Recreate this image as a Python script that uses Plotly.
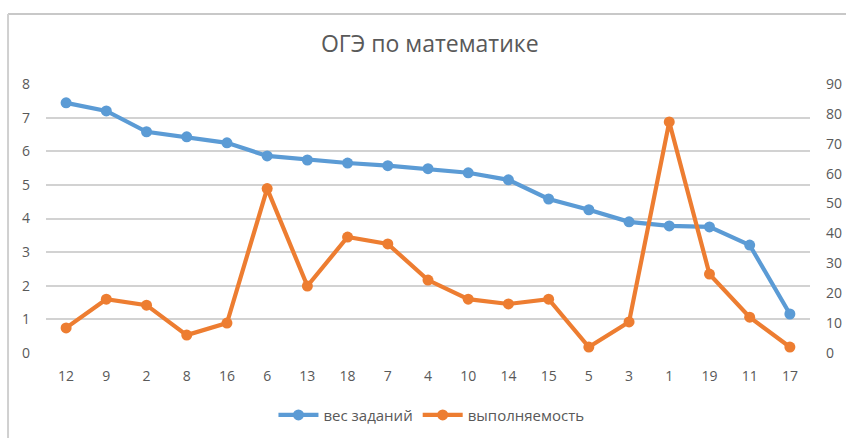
import plotly.graph_objects as go

categories = ["12", "9", "2", "8", "16", "6", "13", "18", "7", "4", "10", "14", "15", "5", "3", "1", "19", "11", "17"]
ves_zadaniy = [7.44, 7.2, 6.58, 6.43, 6.25, 5.86, 5.74, 5.65, 5.57, 5.48, 5.36, 5.15, 4.58, 4.26, 3.9, 3.78, 3.75, 3.21, 1.16]
vypolnyaemost = [8.4, 18, 16, 6, 10, 55, 22.4, 38.8, 36.5, 24.4, 18, 16.4, 18, 2, 10.4, 77.3, 26.4, 12, 2]
left_ticks = [0, 1, 2, 3, 4, 5, 6, 7, 8]
right_ticks = [0, 10, 20, 30, 40, 50, 60, 70, 80, 90]

BLUE = "#5B9BD5"
ORANGE = "#ED7D31"
TXT = "#595959"
GRID = "#D2D2D2"
FONT = "Open Sans"

fig = go.Figure()
fig.add_trace(go.Scatter(
    x=categories, y=ves_zadaniy, name="вес заданий", mode="lines+markers",
    line=dict(color=BLUE, width=4.2), marker=dict(color=BLUE, size=11),
    yaxis="y"))
fig.add_trace(go.Scatter(
    x=categories, y=vypolnyaemost, name="выполняемость", mode="lines+markers",
    line=dict(color=ORANGE, width=4.2), marker=dict(color=ORANGE, size=11),
    yaxis="y2"))

fig.update_layout(
    width=846, height=438,
    margin=dict(l=46, r=36, t=84, b=85, autoexpand=False),
    paper_bgcolor="white", plot_bgcolor="white",
    font=dict(family=FONT, color=TXT, size=14),
    title=dict(text="ОГЭ по математике", x=0.508, xanchor="center", xref="container",
               y=0.9, yanchor="middle", yref="container",
               font=dict(family=FONT, size=23, color=TXT)),
    xaxis=dict(type="category", range=[-0.5, len(categories) - 0.5], showgrid=False,
               showline=False, zeroline=False, ticks="",
               tickfont=dict(size=14, color=TXT), ticklabelstandoff=13, automargin=False),
    yaxis=dict(range=[0, 8], tickvals=left_ticks, showgrid=True, gridcolor=GRID, gridwidth=1.5,
               zeroline=False, showline=False, ticks="", tickfont=dict(size=14, color=TXT),
               ticklabelstandoff=15, automargin=False),
    yaxis2=dict(range=[0, 90], tickvals=right_ticks, overlaying="y", side="right",
                showgrid=False, zeroline=False, showline=False, ticks="",
                tickfont=dict(size=14, color=TXT), ticklabelstandoff=15, automargin=False),
    legend=dict(orientation="h", x=0.51, xanchor="center", xref="container",
                y=0.052, yanchor="middle", yref="container",
                font=dict(size=15, color=TXT), itemwidth=40),
    showlegend=True,
)

# chart frame (top and left border like the original screenshot)
fig.add_shape(type="line", xref="paper", yref="paper", x0=-0.0497, x1=1.06, y0=1.26, y1=1.26,
              line=dict(color="#C8C8C8", width=2))
fig.add_shape(type="line", xref="paper", yref="paper", x0=-0.0497, x1=-0.0497, y0=1.26, y1=-0.33,
              line=dict(color="#D0D0D0", width=2))

fig.write_html("out.html", config={"displayModeBar": False},
               post_script="document.body.style.margin='0px';")
